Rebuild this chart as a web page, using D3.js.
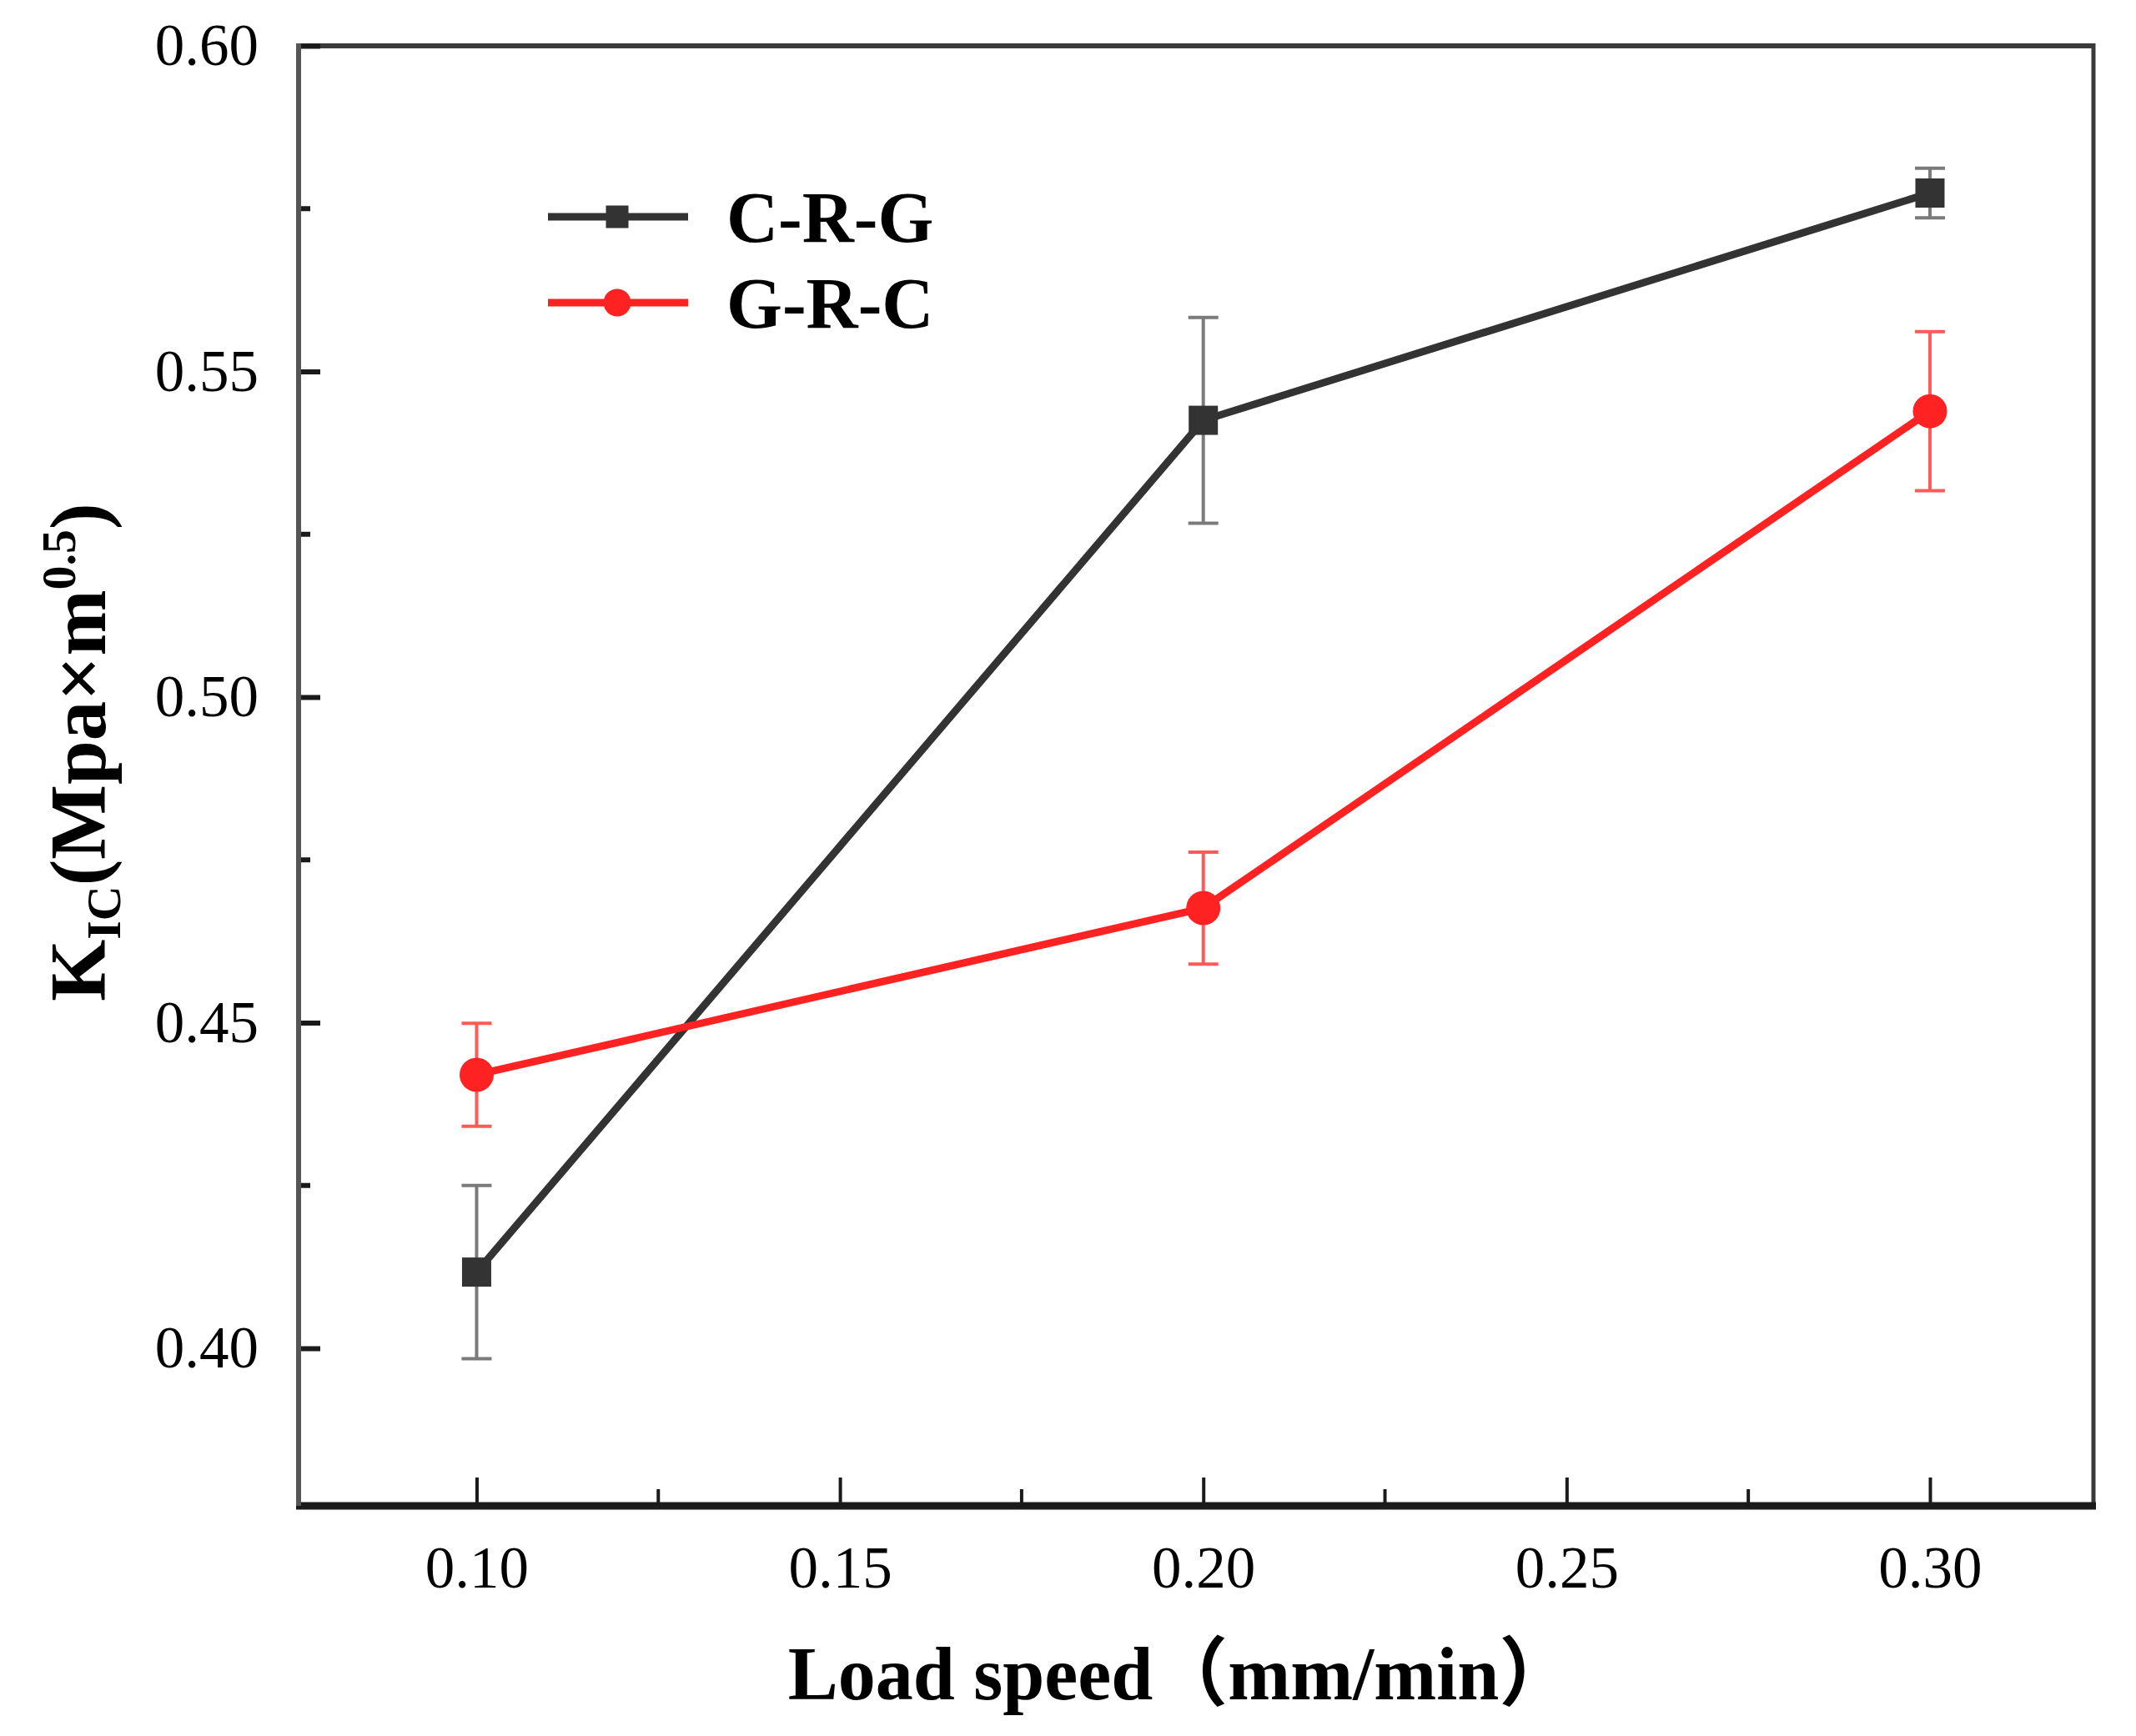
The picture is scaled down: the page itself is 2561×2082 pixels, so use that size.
<!DOCTYPE html>
<html>
<head>
<meta charset="utf-8">
<script src="https://cdn.jsdelivr.net/npm/d3@7"></script>
<style>
    body { margin: 0; background: #ffffff; }
    svg { display: block; }
</style>
</head>
<body>
<svg id="canvas"></svg>
<script>
// data
let speeds = [0.10, 0.20, 0.30]
let crgValues = [0.4117, 0.5425, 0.5774]
let crgErrors = [0.0133, 0.0158, 0.0038]
let grcValues = [0.4420, 0.4676, 0.5439]
let grcErrors = [0.0079, 0.0086, 0.0122]

let seriesNames = ["C-R-G", "G-R-C"]

let xTicks = [0.10, 0.15, 0.20, 0.25, 0.30]
let xMinorTicks = [0.125, 0.175, 0.225, 0.275]
let yTicks = [0.40, 0.45, 0.50, 0.55, 0.60]
let yMinorTicks = [0.425, 0.475, 0.525, 0.575]

let width = 2561
let height = 2082

let plotLeft = 358
let plotRight = 2510
let plotTop = 55
let plotBottom = 1806

let serif = "'Liberation Serif', 'Times New Roman', serif"

let canvas = d3.select("#canvas")
                .attr("width", width)
                .attr("height", height)

let xScale = d3.scaleLinear()
                .domain([0.0755, 0.3225])
                .range([plotLeft, plotRight])

let yScale = d3.scaleLinear()
                .domain([0.3758, 0.60])
                .range([plotBottom, plotTop])

let series = [
    { name: seriesNames[0], values: crgValues, errors: crgErrors, color: "#333333", errColor: "#7a7a7a", shape: "square" },
    { name: seriesNames[1], values: grcValues, errors: grcErrors, color: "#ff2222", errColor: "#ff5a5a", shape: "circle" }
]

let drawFrame = () => {
    canvas.append("rect")
            .attr("width", width)
            .attr("height", height)
            .attr("fill", "#ffffff")

    // top and right sides of the box
    canvas.append("line")
            .attr("x1", plotLeft).attr("x2", plotRight)
            .attr("y1", plotTop).attr("y2", plotTop)
            .attr("stroke", "#3a3a3a")
            .attr("stroke-width", 6)
    canvas.append("line")
            .attr("x1", plotRight).attr("x2", plotRight)
            .attr("y1", plotTop - 3).attr("y2", plotBottom)
            .attr("stroke", "#3a3a3a")
            .attr("stroke-width", 5)
}

let generateAxes = () => {

    let xAxis = d3.axisBottom(xScale)
                    .tickValues(xTicks)
                    .tickFormat(d3.format(".2f"))
                    .tickSizeInner(-34)
                    .tickSizeOuter(0)
                    .tickPadding(48)

    let xg = canvas.append("g")
            .attr("id", "x-axis")
            .attr("transform", "translate(0," + plotBottom + ")")
            .call(xAxis)

    xg.selectAll(".tick line")
        .attr("stroke", "#1a1a1a")
        .attr("stroke-width", 4)

    xg.selectAll(".tick text")
        .attr("font-family", serif)
        .attr("font-size", 71)
        .attr("fill", "#000")

    xg.selectAll(".minor")
        .data(xMinorTicks)
        .enter()
        .append("line")
        .attr("class", "minor")
        .attr("x1", d => xScale(d))
        .attr("x2", d => xScale(d))
        .attr("y1", 0)
        .attr("y2", -20)
        .attr("stroke", "#1a1a1a")
        .attr("stroke-width", 4)

    xg.select(".domain").remove()
    xg.append("line")
        .attr("x1", plotLeft - 3)
        .attr("x2", plotRight + 3)
        .attr("stroke", "#1a1a1a")
        .attr("stroke-width", 9)

    let yAxis = d3.axisLeft(yScale)
                    .tickValues(yTicks)
                    .tickFormat(d3.format(".2f"))
                    .tickSizeInner(-26)
                    .tickSizeOuter(0)
                    .tickPadding(48)

    let yg = canvas.append("g")
            .attr("id", "y-axis")
            .attr("transform", "translate(" + plotLeft + ",0)")
            .call(yAxis)

    yg.selectAll(".tick line")
        .attr("stroke", "#1a1a1a")
        .attr("stroke-width", 6)

    yg.selectAll(".tick text")
        .attr("font-family", serif)
        .attr("font-size", 71)
        .attr("fill", "#000")

    yg.selectAll(".minor")
        .data(yMinorTicks)
        .enter()
        .append("line")
        .attr("class", "minor")
        .attr("y1", d => yScale(d))
        .attr("y2", d => yScale(d))
        .attr("x1", 0)
        .attr("x2", 14)
        .attr("stroke", "#1a1a1a")
        .attr("stroke-width", 6)

    yg.select(".domain").remove()
    yg.append("line")
        .attr("y1", plotTop - 3)
        .attr("y2", plotBottom)
        .attr("stroke", "#555555")
        .attr("stroke-width", 6)
}

let drawMarker = (g, shape, x, y, size, color) => {
    if (shape === "square") {
        g.append("rect")
            .attr("x", x - size / 2)
            .attr("y", y - size / 2)
            .attr("width", size)
            .attr("height", size)
            .attr("fill", color)
    } else {
        g.append("circle")
            .attr("cx", x)
            .attr("cy", y)
            .attr("r", size / 2 + 3)
            .attr("fill", color)
    }
}

let drawSeries = () => {

    let line = d3.line()
                    .x((d, i) => xScale(speeds[i]))
                    .y(d => yScale(d))

    series.forEach((s) => {
        let g = canvas.append("g").attr("class", "series")

        // error bars
        s.values.forEach((v, i) => {
            let x = xScale(speeds[i])
            let yTop = yScale(v + s.errors[i])
            let yBot = yScale(v - s.errors[i])
            g.append("line")
                .attr("x1", x).attr("x2", x)
                .attr("y1", yTop).attr("y2", yBot)
                .attr("stroke", s.errColor)
                .attr("stroke-width", 4)
            ;[yTop, yBot].forEach((yy) => {
                g.append("line")
                    .attr("x1", x - 18).attr("x2", x + 18)
                    .attr("y1", yy).attr("y2", yy)
                    .attr("stroke", s.errColor)
                    .attr("stroke-width", 4)
            })
        })

        g.append("path")
            .datum(s.values)
            .attr("d", line)
            .attr("fill", "none")
            .attr("stroke", s.color)
            .attr("stroke-width", 9)

        s.values.forEach((v, i) => {
            drawMarker(g, s.shape, xScale(speeds[i]), yScale(v), 35, s.color)
        })
    })
}

let drawLegend = () => {
    let legend = canvas.append("g").attr("id", "legend")

    series.forEach((s, i) => {
        let y = 260 + i * 103
        legend.append("line")
            .attr("x1", 657).attr("x2", 825)
            .attr("y1", y).attr("y2", y)
            .attr("stroke", s.color)
            .attr("stroke-width", 9)
        drawMarker(legend, s.shape, 740, y, 27, s.color)
        legend.append("text")
            .attr("x", 871)
            .attr("y", y + 30)
            .attr("font-family", serif)
            .attr("font-weight", "bold")
            .attr("font-size", 86)
            .attr("fill", "#000")
            .text(s.name)
    })
}

let drawTitles = () => {
    canvas.append("text")
            .attr("x", 1416)
            .attr("y", 2038)
            .attr("text-anchor", "middle")
            .attr("font-family", serif + ", 'Noto Sans CJK SC'")
            .attr("font-weight", "bold")
            .attr("font-size", 90)
            .attr("fill", "#000")
            .text("Load speed（mm/min）")

    let yTitle = canvas.append("text")
            .attr("transform", "translate(126,902) rotate(-90)")
            .attr("text-anchor", "middle")
            .attr("font-family", serif)
            .attr("font-weight", "bold")
            .attr("font-size", 95)
            .attr("fill", "#000")

    yTitle.append("tspan").text("K")
    yTitle.append("tspan").attr("font-size", 58).attr("dy", 18).text("IC")
    yTitle.append("tspan").attr("dy", -18).text("(Mpa×m")
    yTitle.append("tspan").attr("font-size", 58).attr("dy", -36).text("0.5")
    yTitle.append("tspan").attr("dy", 36).text(")")
}

drawFrame()
generateAxes()
drawSeries()
drawLegend()
drawTitles()
</script>
</body>
</html>
